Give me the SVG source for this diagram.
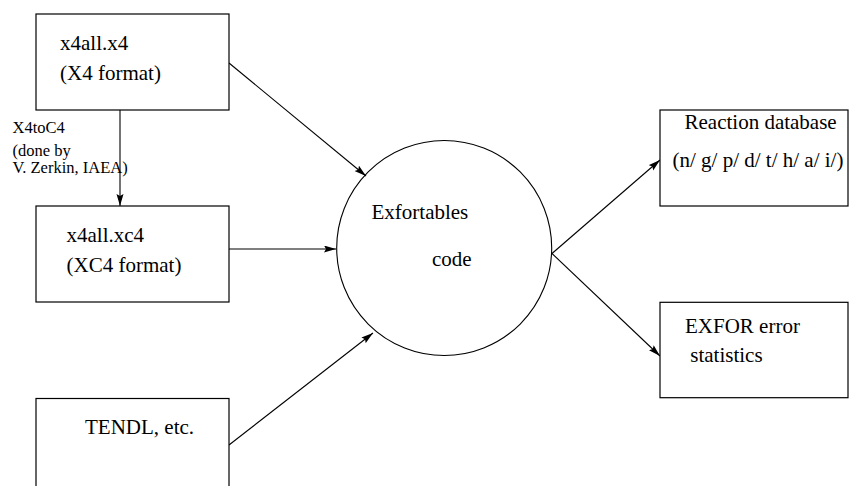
<svg xmlns="http://www.w3.org/2000/svg" width="849" height="486" viewBox="0 0 849 486">
<defs>
<marker id="ah" markerUnits="userSpaceOnUse" markerWidth="13" markerHeight="8" refX="12" refY="3.5" orient="auto">
<path d="M0,0 L12,3.5 L0,7 L2,3.5 z" fill="#000"/>
</marker>
<style>
.box{fill:#fff;stroke:#000;stroke-width:1.2}
.t{font-size:21px;fill:#000}
.s{font-size:16.5px;fill:#000}
.c{fill:none;stroke:#000;stroke-width:1.1;marker-end:url(#ah)}
</style>
</defs>
<rect width="849" height="486" fill="#fff"/>
<g id="connectors">
<line class="c" x1="120" y1="110" x2="120" y2="206"/>
<line class="c" x1="229" y1="63" x2="366" y2="176"/>
<line class="c" x1="229" y1="249" x2="336" y2="249"/>
<line class="c" x1="229" y1="445" x2="373" y2="333"/>
<line class="c" x1="552" y1="253.5" x2="660" y2="160"/>
<line class="c" x1="552" y1="253.5" x2="660" y2="356"/>
</g>
<g font-family="Liberation Serif, Times New Roman, DejaVu Serif, serif">
<g id="label-x4toc4">
<text class="s" x="12.5" y="133">X4toC4</text>
<text class="s" x="12.5" y="155.5">(done by</text>
<text class="s" x="12.5" y="173">V. Zerkin, IAEA)</text>
</g>
<g id="x4all-x4">
<rect class="box" x="36" y="14" width="193" height="96"/>
<text class="t" x="60" y="50">x4all.x4</text>
<text class="t" x="60" y="80">(X4 format)</text>
</g>
<g id="x4all-xc4">
<rect class="box" x="36" y="206" width="193" height="96"/>
<text class="t" x="66.5" y="242">x4all.xc4</text>
<text class="t" x="66.5" y="272">(XC4 format)</text>
</g>
<g id="tendl">
<rect class="box" x="36" y="398.5" width="193" height="100"/>
<text class="t" x="85" y="434">TENDL, etc.</text>
</g>
<g id="exfortables">
<circle cx="444.2" cy="248" r="107.5" fill="none" stroke="#000" stroke-width="1.1"/>
<text class="t" x="371.5" y="218.5">Exfortables</text>
<text class="t" x="432" y="266">code</text>
</g>
<g id="reaction-db">
<rect class="box" x="660" y="110" width="188" height="96"/>
<text class="t" x="684.5" y="128.5">Reaction database</text>
<text class="t" x="672.5" y="167">(n/ g/ p/ d/ t/ h/ a/ i/)</text>
</g>
<g id="exfor-error">
<rect class="box" x="660" y="302.3" width="188" height="95.4"/>
<text class="t" x="685" y="332.5">EXFOR error</text>
<text class="t" x="685" y="362" xml:space="preserve"> statistics</text>
</g>
</g>
</svg>
